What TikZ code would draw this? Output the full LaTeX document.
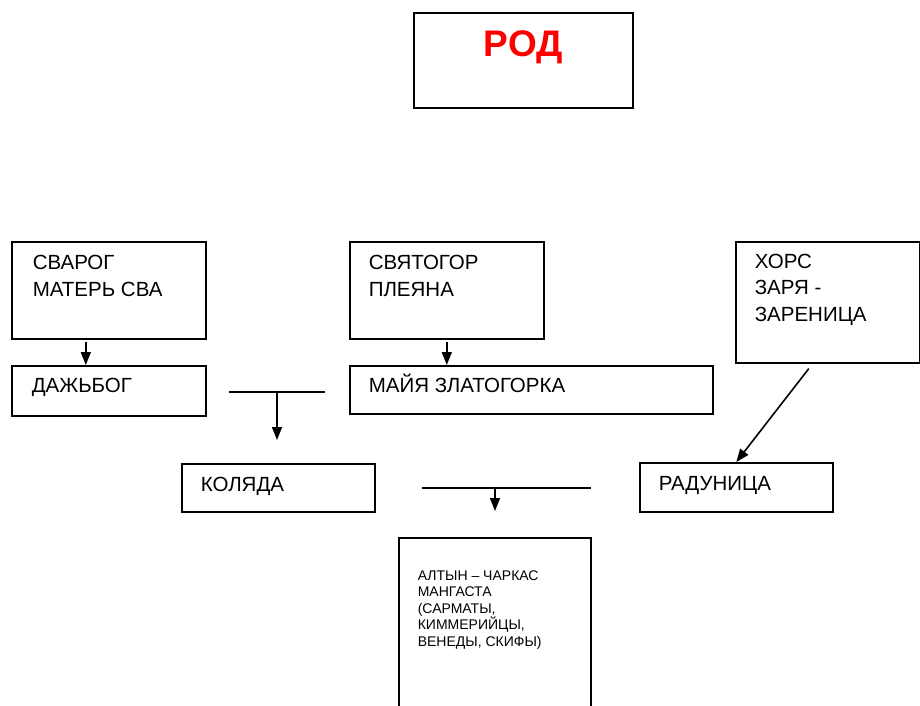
\documentclass[tikz,border=0pt]{standalone}
\usepackage{fontspec}
\setmainfont{Liberation Sans}
\usetikzlibrary{arrows.meta,calc}

\tikzset{
  godbox/.style={draw,rectangle,inner sep=0pt,anchor=north west},
  godname/.style={anchor=base west,inner sep=0pt,align=left,
    font=\fontsize{20.5}{26.5}\selectfont},
  tribename/.style={anchor=base west,inner sep=0pt,align=left,
    font=\fontsize{14}{16.5}\selectfont},
}

\begin{document}
\begin{tikzpicture}[x=1pt,y=-1pt,line width=1.6pt,>={Triangle[length=13pt,width=10pt]}]
  \useasboundingbox (0,0) rectangle (920,705);
  \clip (0,0) rectangle (920,705);

  % boxes
  \node[godbox,minimum width=219pt,minimum height=95pt] (rod)       at (413,12)  {};
  \node[godbox,minimum width=194pt,minimum height=97pt] (svarog)    at (11,241)  {};
  \node[godbox,minimum width=194pt,minimum height=50pt] (dazhbog)   at (11,365)  {};
  \node[godbox,minimum width=194pt,minimum height=97pt] (svyatogor) at (349,241) {};
  \node[godbox,minimum width=363pt,minimum height=48pt] (maya)      at (349,365) {};
  \node[godbox,minimum width=184pt,minimum height=121pt] (khors)    at (735,241) {};
  \node[godbox,minimum width=193pt,minimum height=48pt] (kolyada)   at (181,463) {};
  \node[godbox,minimum width=193pt,minimum height=49pt] (radunitsa) at (639,462) {};
  \node[godbox,minimum width=192pt,minimum height=183pt] (altyn)    at (398,537) {};

  % names (base = last line)
  \node[anchor=base,inner sep=0pt,text=red,font=\bfseries\fontsize{37}{40}\selectfont]
    (rodtxt) at ($(rod.north)+(0,44)$) {РОД};
  \node[godname] (svarogtxt)    at ($(svarog.north west)+(21,55)$)    {СВАРОГ\\МАТЕРЬ СВА};
  \node[godname] (dazhbogtxt)   at ($(dazhbog.north west)+(20,27)$)   {ДАЖЬБОГ};
  \node[godname] (svyatogortxt) at ($(svyatogor.north west)+(19,55)$) {СВЯТОГОР\\ПЛЕЯНА};
  \node[godname] (mayatxt)      at ($(maya.north west)+(19,27)$)      {МАЙЯ ЗЛАТОГОРКА};
  \node[godname] (khorstxt)     at ($(khors.north west)+(19,80)$)     {ХОРС\\ЗАРЯ -\\ЗАРЕНИЦА};
  \node[godname] (kolyadatxt)   at ($(kolyada.north west)+(19,28)$)   {КОЛЯДА};
  \node[godname] (radunitsatxt) at ($(radunitsa.north west)+(19,28)$) {РАДУНИЦА};
  \node[tribename] (altyntxt)   at ($(altyn.north west)+(19,109)$)
    {АЛТЫН – ЧАРКАС\\МАНГАСТА\\(САРМАТЫ,\\КИММЕРИЙЦЫ,\\ВЕНЕДЫ, СКИФЫ)};

  % bars
  \coordinate (bar1l) at (229,392);
  \coordinate (bar1r) at (325,392);
  \coordinate (bar1end) at (277,440);
  \coordinate (bar2l) at (422,488);
  \coordinate (bar2r) at (591,488);
  \coordinate (bar2mid) at (495,488);
  \coordinate (bar2end) at (495,511);

  % connectors
  \draw[->,shorten <=2pt] ([xshift=-23pt]svarog.south) -- ([xshift=-23pt]dazhbog.north);
  \draw[->,shorten <=2pt] (svyatogor.south) -- (svyatogor.south |- maya.north);
  \draw (bar1l) -- (bar1r);
  \draw[->] (bar1l -| bar1end) -- (bar1end);
  \draw (bar2l) -- (bar2r);
  \draw[->] (bar2mid) -- (bar2end);
  \draw[->] ([xshift=-19pt,yshift=-5pt]khors.south) -- (radunitsa.north);
\end{tikzpicture}
\end{document}
